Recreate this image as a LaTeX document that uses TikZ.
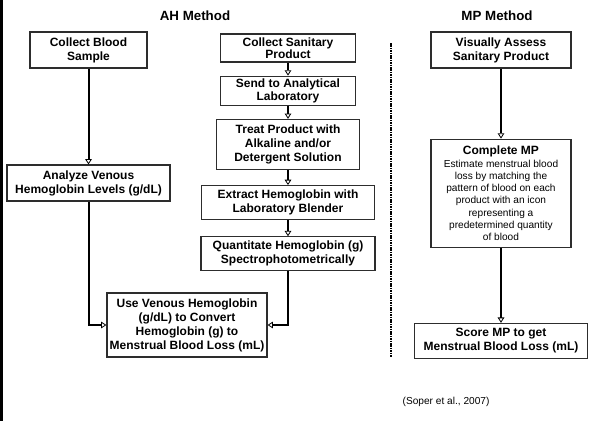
\documentclass[tikz,border=0pt]{standalone}
\usepackage{fontspec}
\setmainfont{Liberation Sans}
\usetikzlibrary{arrows.meta,positioning}
\definecolor{boxline}{RGB}{45,45,45}

\begin{document}
\begin{tikzpicture}[
		x=0.75pt, y=-0.75pt,
		box/.style={rectangle, draw=boxline, line width=0.9pt, fill=white, align=center, inner sep=2pt, font=\fontsize{9}{10.5}\selectfont\bfseries},
		tightbox/.style={box, font=\fontsize{9}{8}\selectfont\bfseries},
		notebox/.style={box, font=\fontsize{7.6}{9.2}\selectfont},
		heading/.style={font=\fontsize{10}{12}\selectfont\bfseries},
		note/.style={font=\fontsize{7.6}{9.2}\selectfont},
		arrow/.style={-{Triangle[open, line width=0.6pt, length=4pt, width=5pt]}, line width=1.5pt},
		divider/.style={line width=1.6pt, dash pattern=on 1.2pt off 0.6pt}
	]
	\useasboundingbox (0,0) rectangle (608,421);
	\fill (0,0) rectangle (3,421);

	% column headings
	\node[heading] (ahhead) at (195,16) {AH Method};
	\node[heading] (mphead) at (497,16) {MP Method};

	% AH method, venous side
	\node[box, minimum width=87.75pt, minimum height=27pt] (blood) at (88.5,50) {Collect Blood\\Sample};
	\node[box, minimum width=122.25pt, minimum height=27pt] (venous) at (88.5,183) {Analyze Venous\\Hemoglobin Levels (g/dL)};

	% AH method, product side
	\node[tightbox, minimum width=101.25pt, minimum height=21pt] (collect) at (288,48) {Collect Sanitary\\Product};
	\node[tightbox, minimum width=101.25pt, minimum height=21.75pt, below=9.75pt of collect] (send) {Send to Analytical\\Laboratory};
	\node[box, minimum width=107.25pt, minimum height=37.5pt, below=9.75pt of send] (treat) {Treat Product with\\Alkaline and/or\\Detergent Solution};
	\node[box, minimum width=129.75pt, minimum height=25.5pt, below=11.25pt of treat] (extract) {Extract Hemoglobin with\\Laboratory Blender};
	\node[box, minimum width=130.5pt, minimum height=25.5pt, below=12pt of extract] (quant) {Quantitate Hemoglobin (g)\\Spectrophotometrically};

	\node[box, minimum width=120pt, minimum height=48pt] (convert) at (187,325) {Use Venous Hemoglobin\\(g/dL) to Convert\\Hemoglobin (g) to\\Menstrual Blood Loss (mL)};

	% MP method
	\node[box, minimum width=105pt, minimum height=27pt] (visual) at (501,50) {Visually Assess\\Sanitary Product};
	\node[notebox, minimum width=105pt, minimum height=81pt, below=52.5pt of visual] (complete) {{\fontsize{9}{10.5}\selectfont\bfseries Complete MP}\\[0.5pt]Estimate menstrual blood\\loss by matching the\\pattern of blood on each\\product with an icon\\representing a\\predetermined quantity\\of blood};
	\node[box, minimum width=129.75pt, minimum height=26.25pt, below=56.25pt of complete] (score) {Score MP to get\\Menstrual Blood Loss (mL)};

	\draw[divider] (391,43) -- (391,357);
	\node[note, anchor=west] (source) at (398,402) {(Soper et al., 2007)};

	\draw[arrow] (blood) -- (venous);
	\draw[arrow] (venous.south) |- (convert.west);
	\draw[arrow] (collect) -- (send);
	\draw[arrow] (send) -- (treat);
	\draw[arrow] (treat) -- (extract);
	\draw[arrow] (extract) -- (quant);
	\draw[arrow] (quant.south) |- (convert.east);
	\draw[arrow] (visual) -- (complete);
	\draw[arrow] (complete) -- (score);
\end{tikzpicture}
\end{document}
